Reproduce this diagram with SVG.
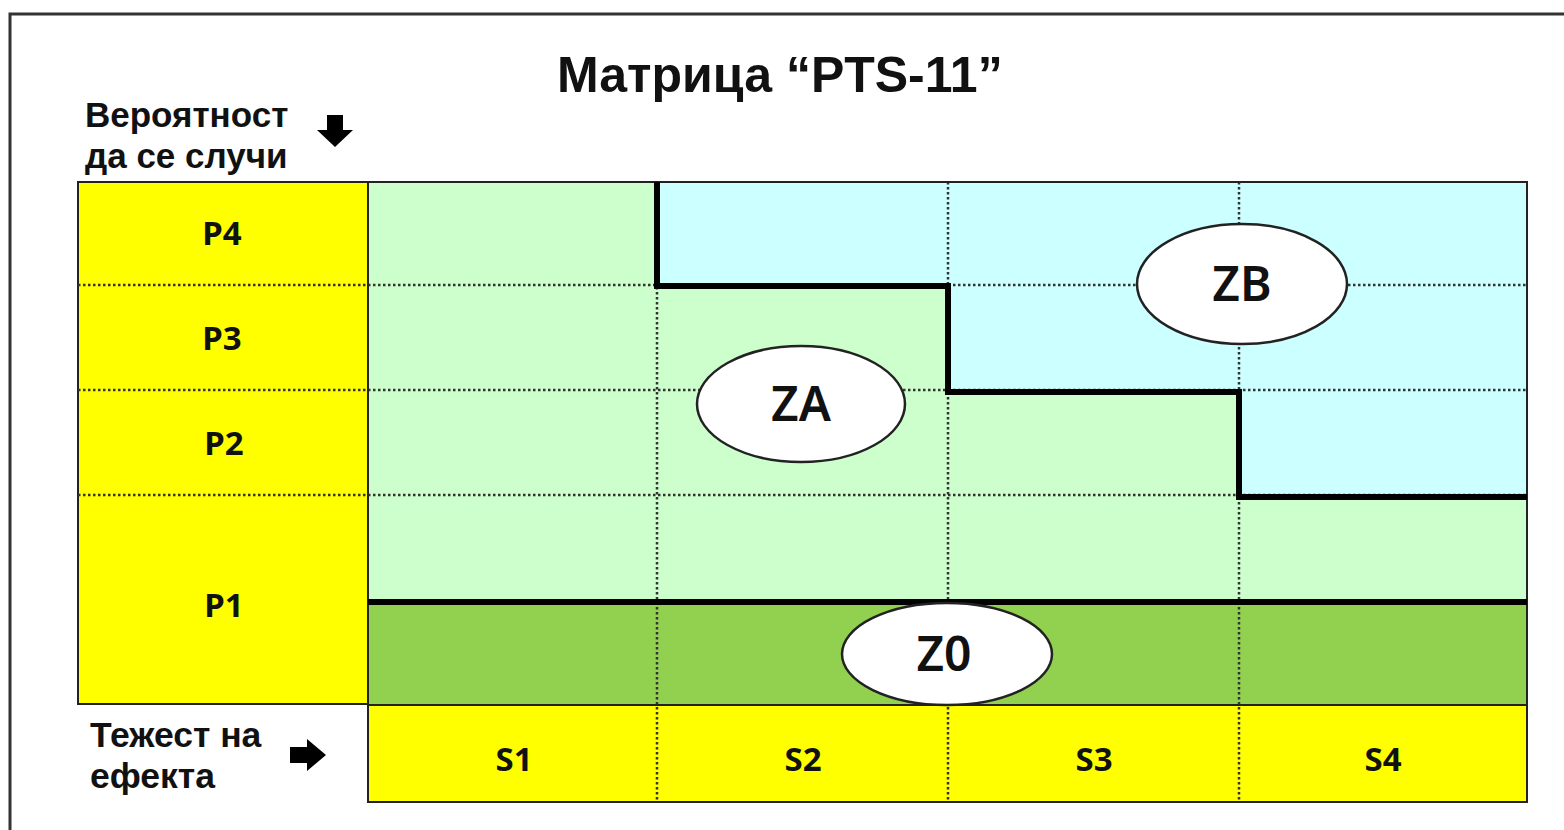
<svg xmlns="http://www.w3.org/2000/svg" width="1564" height="830" viewBox="0 0 1564 830">
  <style>
    .ttl { font-family: "Liberation Sans", Arial, sans-serif; font-weight: bold; fill: #111; }
    .lbl { font-family: "Noto Sans", "Open Sans", sans-serif; font-weight: bold; font-size: 33px; fill: #111; text-anchor: middle; }
    .zone { font-family: "Noto Sans", "Open Sans", sans-serif; font-weight: 600; font-size: 48px; fill: #111; text-anchor: middle; }
    .cell { stroke: #222; stroke-width: 2; }
    .dot { stroke: #333; stroke-width: 2.5; stroke-dasharray: 2.5 2.5; fill: none; }
    .thick { stroke: #000; stroke-width: 6; fill: none; stroke-linejoin: miter; }
    .oval { fill: #fff; stroke: #222; stroke-width: 2.5; }
  </style>

  <rect x="0" y="0" width="1564" height="830" fill="#fff"/>
  <!-- page frame: top and left edges -->
  <path d="M10 830 V14 H1564" fill="none" stroke="#333" stroke-width="3"/>

  <!-- title and axis captions -->
  <text class="ttl" x="557" y="92" font-size="50">Матрица “PTS-11”</text>
  <text class="ttl" x="85" y="127" font-size="35">Вероятност</text>
  <text class="ttl" x="85" y="168" font-size="35">да се случи</text>
  <polygon points="327,115 343,115 343,130 353,130 335,147 317,130 327,130" fill="#000"/>
  <text class="ttl" x="90" y="747" font-size="35.5">Тежест на</text>
  <text class="ttl" x="90" y="788" font-size="35.5">ефекта</text>
  <polygon points="290,747 307,747 307,739 326,755 307,771 307,763 290,763" fill="#000"/>

  <!-- probability column -->
  <g id="probability">
    <rect class="cell" x="78" y="182" width="290" height="522" fill="#ffff00"/>
    <text class="lbl" x="222" y="245">P4</text>
    <text class="lbl" x="222" y="350">P3</text>
    <text class="lbl" x="224" y="455">P2</text>
    <text class="lbl" x="224" y="617">P1</text>
  </g>

  <!-- matrix zones -->
  <g id="zone-a-area">
    <rect x="368" y="182" width="1159" height="421" fill="#ccffcc"/>
  </g>
  <g id="zone-b-area">
    <polygon points="657,182 1527,182 1527,497 1239,497 1239,392 948,392 948,285 657,285" fill="#ccffff"/>
  </g>
  <g id="zone-0-area">
    <rect x="368" y="603" width="1159" height="102" fill="#92d050"/>
  </g>

  <!-- severity row -->
  <g id="severity">
    <rect class="cell" x="368" y="705" width="1159" height="97" fill="#ffff00"/>
    <text class="lbl" x="514" y="771">S1</text>
    <text class="lbl" x="803" y="771">S2</text>
    <text class="lbl" x="1094" y="771">S3</text>
    <text class="lbl" x="1383" y="771">S4</text>
  </g>

  <!-- dotted grid -->
  <g id="grid">
    <path class="dot" d="M78 285 H1527 M78 390 H1527 M78 495 H1527"/>
    <path class="dot" d="M657 182 V802 M948 182 V802 M1239 182 V802"/>
    <rect x="368" y="182" width="1159" height="620" fill="none" stroke="#222" stroke-width="2"/>
    <line x1="368" y1="705" x2="1527" y2="705" stroke="#222" stroke-width="2"/>
  </g>

  <!-- zone boundaries -->
  <g id="connectors">
    <path class="thick" d="M657 182 V286 H948 V392 H1239 V497 H1527"/>
    <path class="thick" d="M368 602 H1527"/>
  </g>

  <!-- zone markers -->
  <g id="ZA">
    <ellipse class="oval" cx="801" cy="404" rx="104" ry="58"/>
    <text class="zone" x="801" y="421">ZA</text>
  </g>
  <g id="ZB">
    <ellipse class="oval" cx="1242" cy="284" rx="105" ry="60"/>
    <text class="zone" x="1242" y="301">ZB</text>
  </g>
  <g id="Z0">
    <ellipse class="oval" cx="947" cy="654" rx="105" ry="51"/>
    <text class="zone" x="944" y="671">Z0</text>
  </g>
</svg>
